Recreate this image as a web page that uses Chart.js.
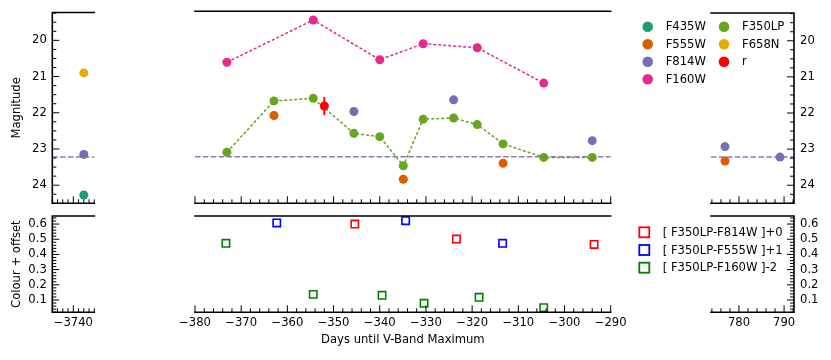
<!DOCTYPE html>
<html>
<head>
<meta charset="utf-8">
<script src="https://cdn.jsdelivr.net/npm/chart.js@4.4.1/dist/chart.umd.min.js"></script>
<style>
  html, body { margin: 0; padding: 0; background: #fff; }
  #wrap { position: relative; width: 831px; height: 360px; }
  #wrap canvas { position: absolute; left: 0; top: 0; }
</style>
</head>
<body>
<div id="wrap">
  <canvas id="topLeft" width="831" height="360"></canvas>
  <canvas id="topMid" width="831" height="360"></canvas>
  <canvas id="topRight" width="831" height="360"></canvas>
  <canvas id="botLeft" width="831" height="360"></canvas>
  <canvas id="botMid" width="831" height="360"></canvas>
  <canvas id="botRight" width="831" height="360"></canvas>
</div>
<script>
// magnitudes per band (days until V-band maximum)
const f435wDays = [-3738.0];
const f435wMag = [24.27];
const f555wDays = [-362.9, -334.9, -313.3, 776.9];
const f555wMag = [22.09, 23.84, 23.40, 23.33];
const f814wDays = [-3738.0, -345.6, -324.0, -294.0, 776.9, 789.1];
const f814wMag = [23.15, 21.98, 21.66, 22.78, 22.93, 23.22];
const f160wDays = [-373.1, -354.4, -340.0, -330.6, -318.9, -304.5];
const f160wMag = [20.63, 19.47, 20.56, 20.12, 20.23, 21.20];
const f350lpDays = [-373.1, -362.9, -354.4, -345.6, -340.0, -334.9, -330.6, -324.0, -318.9, -313.3, -304.5, -294.0];
const f350lpMag = [23.10, 21.69, 21.62, 22.58, 22.67, 23.47, 22.19, 22.16, 22.34, 22.87, 23.24, 23.24];
const f658nDays = [-3738.0];
const f658nMag = [20.90];
const rDays = [-352.0];
const rMag = [21.83];
const rErr = [0.25];
const limitMag = 23.22;

// colours + offset
const colRedDays = [-345.4, -323.4, -293.6];
const colRedVals = [0.600, 0.501, 0.466];
const colBlueDays = [-362.3, -334.4, -313.4];
const colBlueVals = [0.607, 0.622, 0.473];
const colGreenDays = [-373.3, -354.4, -339.5, -330.4, -318.5, -304.5];
const colGreenVals = [0.473, 0.137, 0.131, 0.078, 0.118, 0.049];

// axis ranges of the broken axes
const leftDays = [-3744, -3736];
const midDays = [-380, -290];
const rightDays = [773.8, 792.2];
const magRange = [19.23, 24.5];
const colRange = [0.019, 0.653];

const FONT = 11.6;
Chart.defaults.font.family = "'DejaVu Sans', sans-serif";
Chart.defaults.font.size = FONT;
Chart.defaults.color = '#000';

const W = 831, H = 360;
const WL = 42, WR = 30, HB = 35;

const bands = [
  { label: 'F435W', days: f435wDays, vals: f435wMag, color: '#1b9e77' },
  { label: 'F555W', days: f555wDays, vals: f555wMag, color: '#d95f02' },
  { label: 'F814W', days: f814wDays, vals: f814wMag, color: '#7570b3' },
  { label: 'F160W', days: f160wDays, vals: f160wMag, color: '#e7298a', line: true },
  { label: 'F350LP', days: f350lpDays, vals: f350lpMag, color: '#66a61e', line: true },
  { label: 'F658N', days: f658nDays, vals: f658nMag, color: '#e6ab02' },
  { label: 'r', days: rDays, vals: rMag, color: '#ff0000' }
];
const colours = [
  { label: '[ F350LP-F814W ]+0', days: colRedDays, vals: colRedVals, color: '#ff0000' },
  { label: '[ F350LP-F555W ]+1', days: colBlueDays, vals: colBlueVals, color: '#0000ff' },
  { label: '[ F350LP-F160W ]-2', days: colGreenDays, vals: colGreenVals, color: '#008000' }
];

function fmtDay(v) { return v < 0 ? '\u2212' + Math.abs(v) : String(v); }

function stepValues(min, max, step) {
  const out = [];
  for (let k = Math.ceil(min / step - 1e-9); k * step <= max + 1e-9; k++) out.push(k * step);
  return out;
}
function isMultiple(v, step) { return Math.abs(v / step - Math.round(v / step)) < 1e-6; }

function pts(days, vals, range) {
  return days.map((d, i) => ({ x: d, y: vals[i] })).filter(p => p.x >= range[0] && p.x <= range[1]);
}

// spines, inward ticks, error bars and legends
const framePlugin = {
  id: 'frame',
  beforeDatasetsDraw(chart, args, o) {
    const { ctx, scales: { x, y } } = chart;
    (o.errors || []).forEach(e => {
      ctx.save();
      ctx.strokeStyle = e.color;
      ctx.lineWidth = 2;
      e.days.forEach((d, i) => {
        if (d < x.min || d > x.max) return;
        const px = x.getPixelForValue(d);
        ctx.beginPath();
        ctx.moveTo(px, y.getPixelForValue(e.vals[i] - e.errs[i]));
        ctx.lineTo(px, y.getPixelForValue(e.vals[i] + e.errs[i]));
        ctx.stroke();
      });
      ctx.restore();
    });
  },
  afterDatasetsDraw(chart, args, o) {
    const { ctx, chartArea: a, scales: { x, y } } = chart;
    ctx.save();
    ctx.strokeStyle = '#000';
    ctx.lineWidth = 1;
    ctx.beginPath();
    stepValues(x.min, x.max, o.xMinor).forEach(v => {
      const p = x.getPixelForValue(v);
      const len = isMultiple(v, o.xStep) ? 7 : 4;
      ctx.moveTo(p, a.bottom);
      ctx.lineTo(p, a.bottom - len);
    });
    if (o.ySide) {
      const x0 = o.ySide === 'left' ? a.left : a.right;
      const dir = o.ySide === 'left' ? 1 : -1;
      stepValues(y.min, y.max, o.yMinor).forEach(v => {
        const p = y.getPixelForValue(v);
        const len = isMultiple(v, o.yStep) ? 7 : 4;
        ctx.moveTo(x0, p);
        ctx.lineTo(x0 + dir * len, p);
      });
    }
    ctx.stroke();

    ctx.lineWidth = 1.6;
    ctx.lineCap = 'square';
    ctx.beginPath();
    ctx.moveTo(a.left, a.top); ctx.lineTo(a.right, a.top);
    ctx.moveTo(a.left, a.bottom); ctx.lineTo(a.right, a.bottom);
    if (o.ySide === 'left') { ctx.moveTo(a.left, a.top); ctx.lineTo(a.left, a.bottom); }
    if (o.ySide === 'right') { ctx.moveTo(a.right, a.top); ctx.lineTo(a.right, a.bottom); }
    ctx.stroke();
    ctx.restore();
  },
  afterDraw(chart, args, o) {
    const L = o.legend;
    if (!L) return;
    const ctx = chart.ctx;
    ctx.save();
    ctx.font = FONT + "px 'DejaVu Sans', sans-serif";
    ctx.textBaseline = 'middle';
    ctx.textAlign = 'left';
    L.items.forEach((it, i) => {
      const col = Math.floor(i / L.rows), row = i % L.rows;
      const mx = L.x + col * L.colGap, my = L.y + row * L.rowGap;
      if (L.shape === 'circle') {
        ctx.fillStyle = it.color;
        ctx.beginPath();
        ctx.arc(mx, my, L.size, 0, Math.PI * 2);
        ctx.fill();
      } else {
        ctx.strokeStyle = it.color;
        ctx.lineWidth = 1.8;
        ctx.strokeRect(mx - L.size, my - L.size, 2 * L.size, 2 * L.size);
      }
      ctx.fillStyle = '#000';
      ctx.fillText(it.label, mx + L.textDx, my + 0.5);
    });
    ctx.restore();
  }
};

function magSets(range) {
  const sets = [{
    label: 'limit',
    data: [{ x: range[0], y: limitMag }, { x: range[1], y: limitMag }],
    showLine: true,
    borderColor: 'rgba(117,112,179,0.9)',
    borderWidth: 1.5,
    borderDash: [5.5, 2.4],
    pointRadius: 0,
    order: 9
  }];
  bands.forEach(b => {
    sets.push({
      label: b.label,
      data: pts(b.days, b.vals, range),
      showLine: !!b.line,
      borderColor: b.color,
      borderWidth: 1.5,
      borderDash: [3, 2],
      pointRadius: 4.5,
      pointBorderWidth: 0,
      pointBackgroundColor: b.color,
      order: b.line ? 2 : 1
    });
  });
  return sets;
}

function colSets(range) {
  return colours.map(c => ({
    label: c.label,
    data: pts(c.days, c.vals, range),
    pointStyle: 'rect',
    pointRadius: 5.2,
    pointBorderWidth: 1.6,
    pointBorderColor: c.color,
    pointBackgroundColor: 'rgba(0,0,0,0)'
  }));
}

function makePanel(id, box, xRange, yRange, cfg) {
  const pad = {
    left: cfg.ySide === 'left' ? box.l - WL : box.l,
    right: cfg.ySide === 'right' ? W - box.r - WR : W - box.r,
    top: box.t,
    bottom: cfg.xLabels ? H - box.b - HB : H - box.b
  };
  return new Chart(document.getElementById(id).getContext('2d'), {
    type: 'scatter',
    data: { datasets: cfg.datasets },
    options: {
      responsive: false,
      animation: false,
      events: [],
      layout: { padding: pad },
      scales: {
        x: {
          type: 'linear',
          min: xRange[0],
          max: xRange[1],
          display: !!cfg.xLabels,
          grid: { display: false, drawTicks: false },
          border: { display: false },
          ticks: {
            stepSize: cfg.xStep, includeBounds: false, padding: 4,
            maxRotation: 0, autoSkip: false, callback: v => fmtDay(v)
          },
          title: { display: !!cfg.xTitle, text: cfg.xTitle || '', padding: 0 },
          afterFit: s => { s.height = cfg.xLabels ? HB : 0; }
        },
        y: {
          type: 'linear',
          position: cfg.ySide || 'left',
          min: yRange[0],
          max: yRange[1],
          reverse: !!cfg.reverse,
          display: !!cfg.ySide,
          grid: { display: false, drawTicks: false },
          border: { display: false },
          ticks: {
            stepSize: cfg.yStep, includeBounds: false,
            padding: cfg.ySide === 'right' ? 6 : 5.5,
            callback: v => cfg.yFmt(v)
          },
          title: { display: !!cfg.yTitle, text: cfg.yTitle || '', padding: 0 },
          afterFit: s => { s.width = cfg.ySide ? (cfg.ySide === 'right' ? WR : WL) : 0; }
        }
      },
      plugins: {
        legend: { display: false },
        tooltip: { enabled: false },
        frame: {
          xStep: cfg.xStep, xMinor: cfg.xMinor,
          yStep: cfg.yStep, yMinor: cfg.yMinor,
          ySide: cfg.ySide, errors: cfg.errors, legend: cfg.legend
        }
      }
    },
    plugins: [framePlugin]
  });
}

const topBox = { t: 11.3, b: 203.3 };
const botBox = { t: 216, b: 312.3 };
const colLeft = { l: 52.3, r: 94.3 };
const colMid = { l: 195, r: 610.7 };
const colRight = { l: 711, r: 794 };
const magFmt = v => String(v);
const colFmt = v => v.toFixed(1);
const rError = [{ days: rDays, vals: rMag, errs: rErr, color: '#ff0000' }];

const magCfg = { reverse: true, yStep: 1, yMinor: 0.25, yFmt: magFmt };
const colCfg = { yStep: 0.1, yMinor: 0.02, yFmt: colFmt, xLabels: true };

makePanel('topLeft', { ...colLeft, ...topBox }, leftDays, magRange,
  { ...magCfg, ySide: 'left', yTitle: 'Magnitude', xStep: 5, xMinor: 1, datasets: magSets(leftDays) });
makePanel('topMid', { ...colMid, ...topBox }, midDays, magRange,
  { ...magCfg, xStep: 10, xMinor: 2, datasets: magSets(midDays), errors: rError });
makePanel('topRight', { ...colRight, ...topBox }, rightDays, magRange,
  { ...magCfg, ySide: 'right', xStep: 10, xMinor: 2, datasets: magSets(rightDays),
    legend: { shape: 'circle', items: bands, rows: 4, x: 647.7, y: 26.7, colGap: 76.3, rowGap: 17.5, size: 5.3, textDx: 18 } });

makePanel('botLeft', { ...colLeft, ...botBox }, leftDays, colRange,
  { ...colCfg, ySide: 'left', yTitle: 'Colour + offset', xStep: 5, xMinor: 1, datasets: colSets(leftDays) });
makePanel('botMid', { ...colMid, ...botBox }, midDays, colRange,
  { ...colCfg, xStep: 10, xMinor: 2, xTitle: 'Days until V-Band Maximum', datasets: colSets(midDays) });
makePanel('botRight', { ...colRight, ...botBox }, rightDays, colRange,
  { ...colCfg, ySide: 'right', xStep: 10, xMinor: 2, datasets: colSets(rightDays),
    legend: { shape: 'square', items: colours, rows: 3, x: 644.3, y: 232.3, colGap: 0, rowGap: 17.7, size: 5, textDx: 18.4 } });
</script>
</body>
</html>
